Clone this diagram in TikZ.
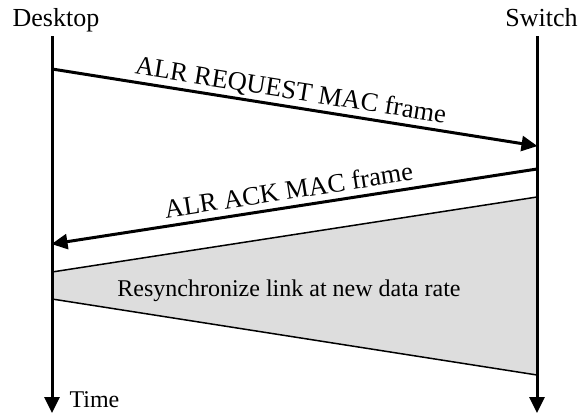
\documentclass[tikz,border=0pt]{standalone}
\usepackage{fontspec}
\setmainfont{Liberation Serif}
\usetikzlibrary{arrows.meta}
\begin{document}
\begin{tikzpicture}[x=1pt,y=-1pt,
  lifeline/.style={line width=3pt,-{Triangle[length=16pt,width=15pt]}},
  msg/.style={line width=3pt,-{Triangle[length=16pt,width=15pt]},shorten >=-0.5pt},
  phase/.style={draw=black,line width=1.5pt,fill=gray!27},
  actor/.style={font=\fontsize{26}{30}\selectfont,anchor=base},
  lbl/.style={font=\fontsize{24}{28}\selectfont},
  msglbl/.style={font=\fontsize{26.5}{30}\selectfont,sloped,above=8pt,anchor=base,inner sep=0pt}]
\useasboundingbox (0,0) rectangle (582,415);

% lifeline end points
\coordinate (d0) at (52,36);
\coordinate (d1) at (52,413);
\coordinate (s0) at (537,36);
\coordinate (s1) at (537,413);

% message end points
\coordinate (rq0) at (52,69);
\coordinate (rq1) at (537,146);
\coordinate (ak0) at (537,169);
\coordinate (ak1) at (52,244);

% resynchronisation phase
\coordinate (g1) at (52,272);
\coordinate (g2) at (537,197);
\coordinate (g3) at (537,375);
\coordinate (g4) at (52,299);
\draw[phase] (g1) -- (g2) -- (g3) -- (g4) -- cycle;
\node[lbl,anchor=base] (resync) at (289,296) {Resynchronize link at new data rate};

% lifelines
\draw[lifeline] (d0) -- (d1);
\draw[lifeline] (s0) -- (s1);
\node[actor] (desktop) at (56,27) {Desktop};
\node[actor] (switch) at (541.5,27) {Switch};
\node[lbl,anchor=base west] (time) at (66,407) {Time};

% messages
\draw[msg] (rq0) -- node[msglbl,pos=0.487] (reqlbl) {ALR REQUEST MAC frame} (rq1);
\draw[msg] (ak0) -- node[msglbl,pos=0.507] (acklbl) {ALR ACK MAC frame} (ak1);
\end{tikzpicture}
\end{document}
